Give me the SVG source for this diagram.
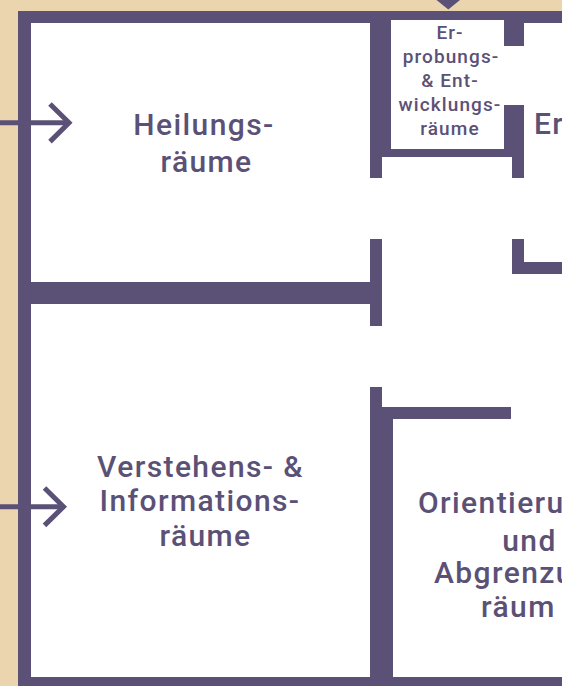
<svg xmlns="http://www.w3.org/2000/svg" width="562" height="686" viewBox="0 0 562 686">
<style>
.wall{fill:#5B5177}
.hole{fill:#FFFFFF}
.t{font-family:Roboto,"Liberation Sans",sans-serif;font-size:30px;font-weight:500;fill:#5B5177;letter-spacing:1.4px}
.s{font-family:Roboto,"Liberation Sans",sans-serif;font-size:19px;font-weight:500;fill:#5B5177;letter-spacing:1.1px;text-anchor:middle}
.m{text-anchor:middle}
.arrow{fill:none;stroke:#5B5177;stroke-width:5;stroke-linecap:butt;stroke-linejoin:miter}
</style>
<rect x="0" y="0" width="562" height="686" fill="#EAD5AF"/>
<rect x="18" y="11" width="544" height="675" fill="#FFFFFF"/>
<g id="walls">
<rect class="wall" x="18" y="11" width="544" height="12"/>
<rect class="wall" x="18" y="11" width="13" height="675"/>
<rect class="wall" x="18" y="677" width="544" height="9"/>
<rect class="wall" x="18" y="282" width="364" height="22"/>
<rect class="wall" x="370" y="239" width="12" height="87"/>
<rect class="wall" x="512" y="239" width="12" height="35"/>
<rect class="wall" x="512" y="262" width="50" height="12"/>
<rect class="wall" x="370" y="387" width="12" height="290"/>
<rect class="wall" x="382" y="407" width="129" height="12"/>
<rect class="wall" x="382" y="419" width="11" height="258"/>
</g>
<g id="room-heilung">
<text class="t m" x="204" y="135">Heilungs-</text>
<text class="t m" x="206.5" y="172">räume</text>
</g>
<g id="room-verstehen">
<text class="t m" x="200.5" y="476.5">Verstehens- &amp;</text>
<text class="t m" x="200" y="511">Informations-</text>
<text class="t m" x="205.5" y="546">räume</text>
</g>
<g id="room-erprobung">
<rect class="wall" x="370" y="11" width="154" height="146"/>
<rect class="hole" x="391" y="20" width="113" height="129"/>
<rect class="hole" x="504" y="46" width="20" height="59"/>
<rect class="wall" x="370" y="157" width="12" height="21"/>
<rect class="wall" x="512" y="157" width="12" height="21"/>
<text class="s" x="450" y="38.5">Er-</text>
<text class="s" x="451" y="62.5">probungs-</text>
<text class="s" x="450" y="86.5">&amp; Ent-</text>
<text class="s" x="450" y="110.5">wicklungs-</text>
<text class="s" x="450" y="134.5">räume</text>
</g>
<g id="room-er">
<text class="t" x="534" y="134">Er</text>
</g>
<g id="room-orientierung">
<text class="t" x="418" y="513">Orientieru</text>
<text class="t m" x="529.5" y="551">und</text>
<text class="t" x="434" y="583">Abgrenzu</text>
<text class="t" x="481" y="617">räum</text>
</g>
<g id="connectors">
<line class="arrow" x1="0" y1="122.8" x2="68" y2="122.8"/>
<polyline class="arrow" points="50,104 69,122.8 50,141.6"/>
<line class="arrow" x1="0" y1="506.7" x2="63" y2="506.7"/>
<polyline class="arrow" points="44.5,488 63.5,506.7 44.5,525.4"/>
<polygon fill="#5B5177" points="436.5,0 460,0 448.3,9.5"/>
</g>
</svg>
